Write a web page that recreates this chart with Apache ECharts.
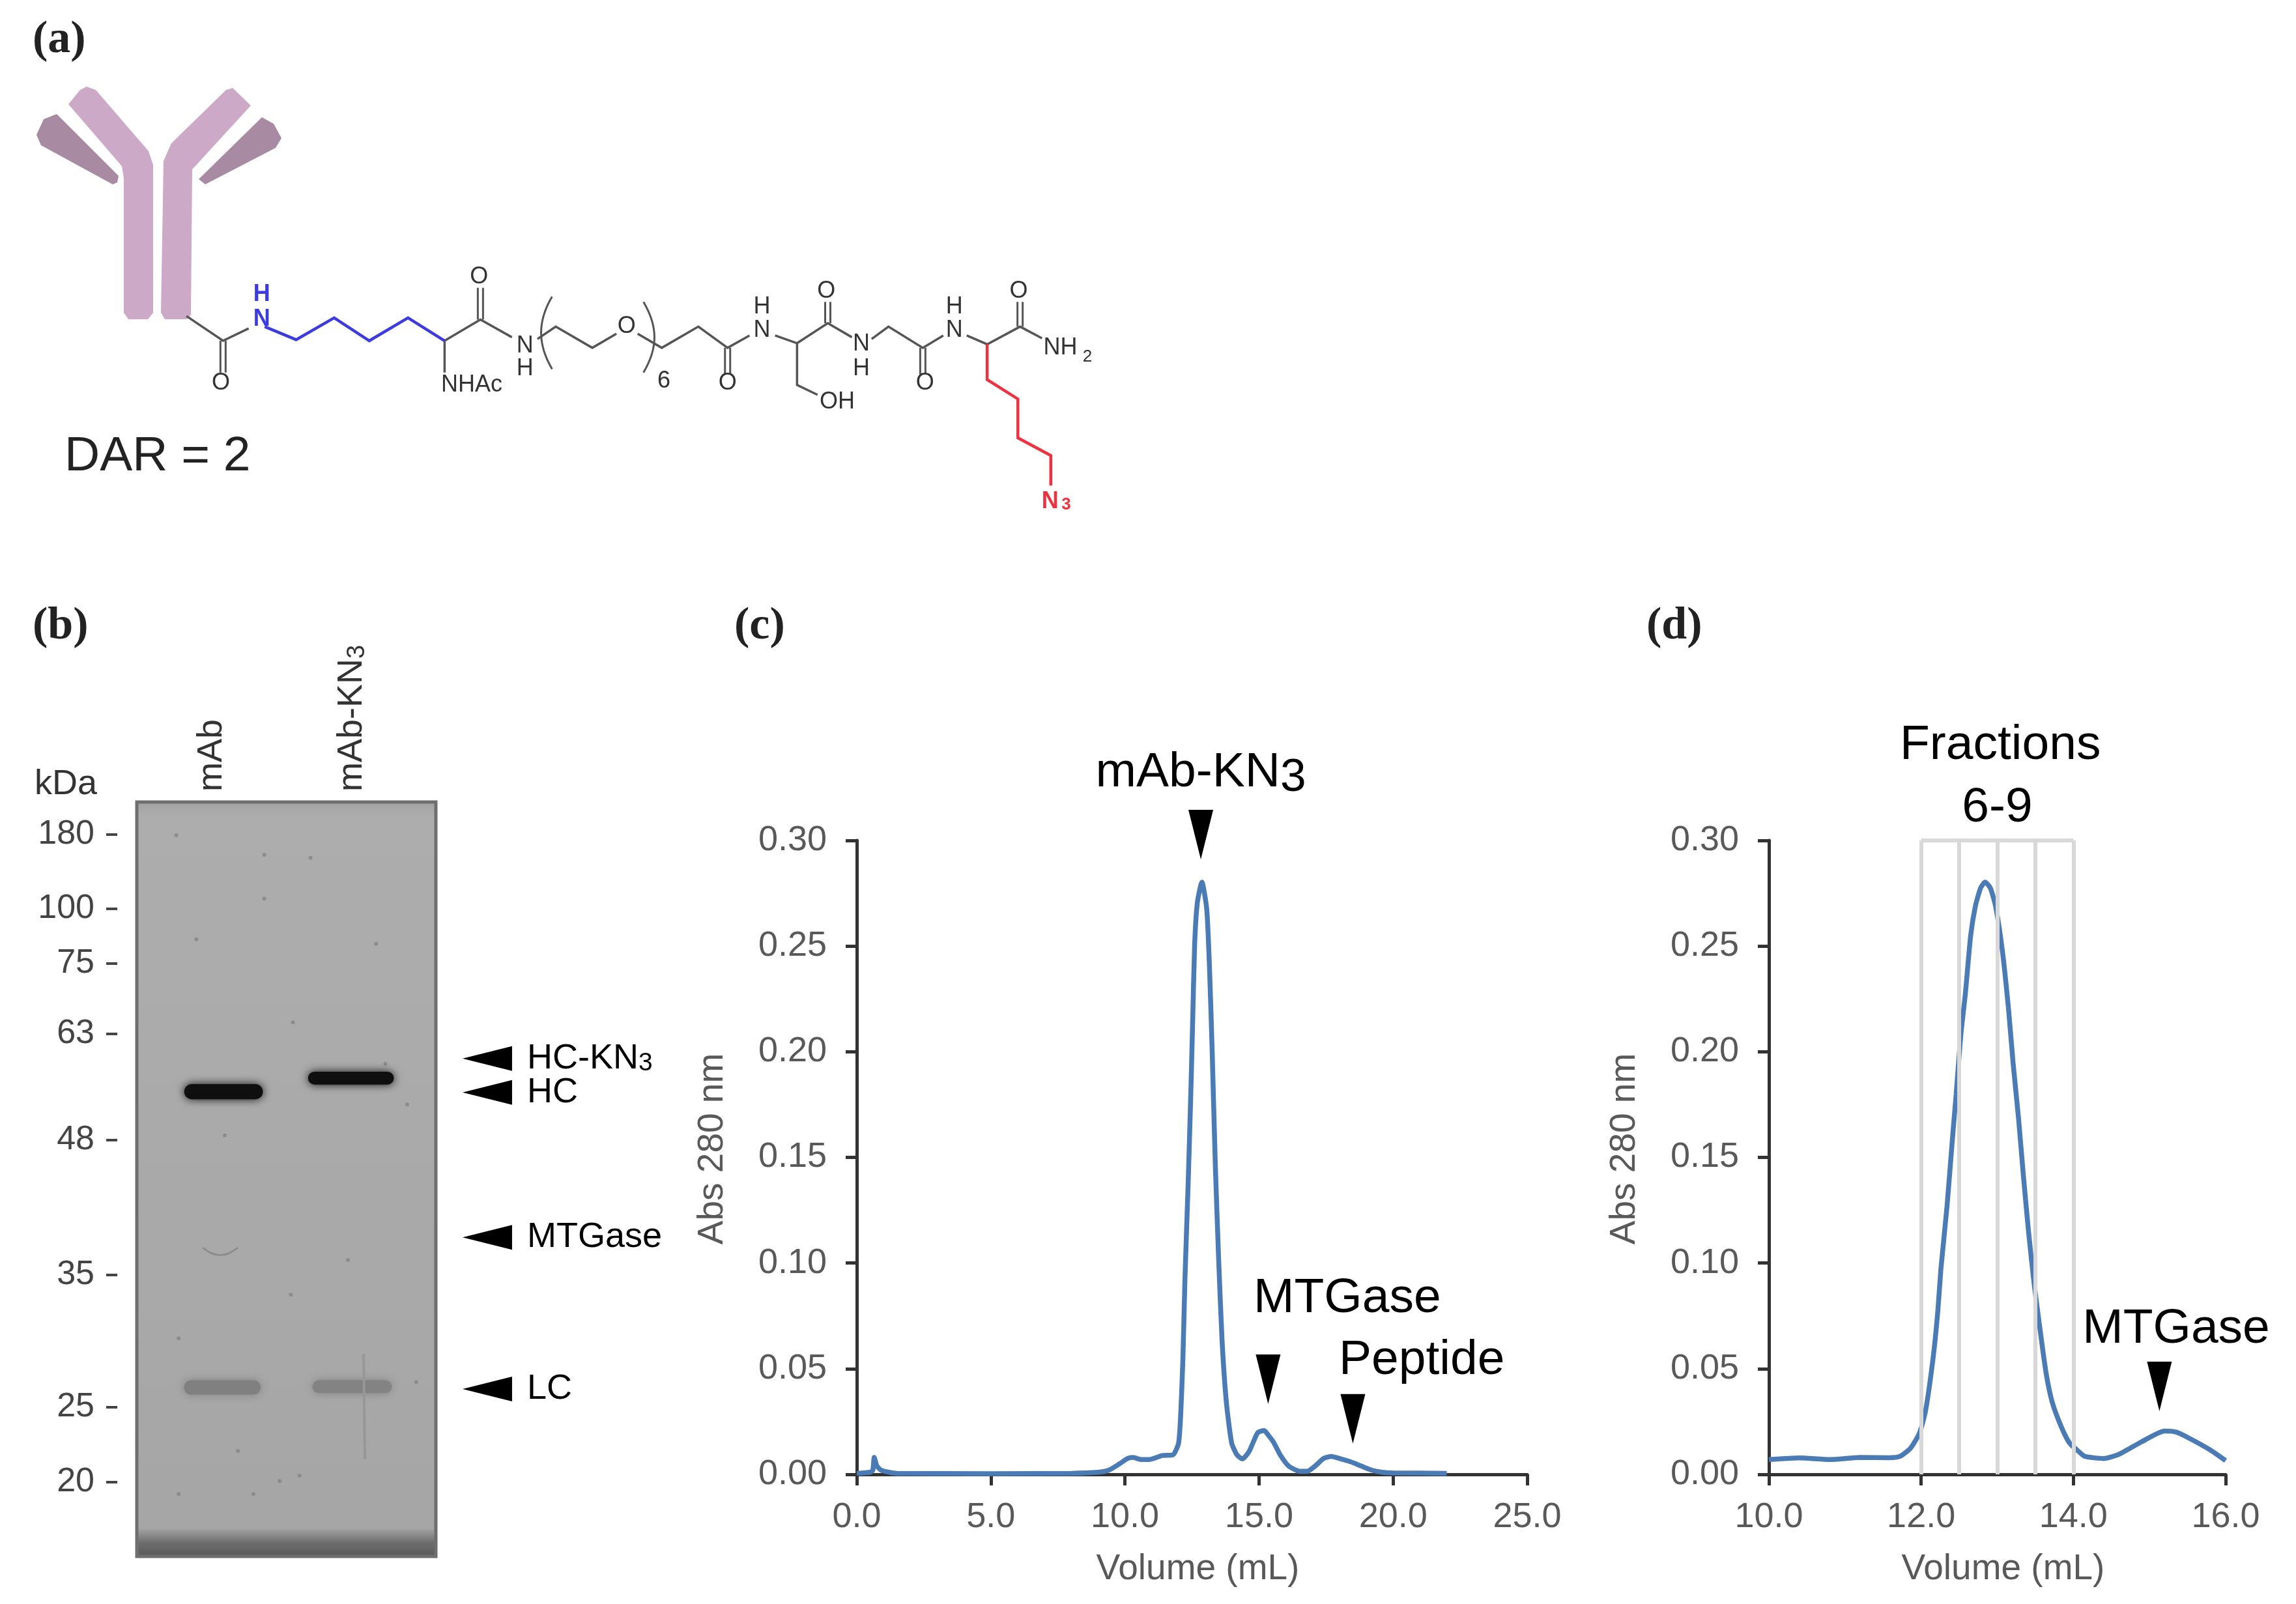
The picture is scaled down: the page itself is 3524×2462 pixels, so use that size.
<!DOCTYPE html>
<html lang="en">
<head>
    <meta charset="UTF-8">
    <title>mAb-KN3 conjugation, gel and SEC traces</title>
    <script src="https://cdn.jsdelivr.net/npm/echarts@6/dist/echarts.min.js"></script>
</head>
<body style="margin: 0; background: #fff">
    <div id="chart" style="width: 3524px; height: 2462px;"></div>
    <script>
        // panel (c), full SEC run
        const volumeC = [0, 0.5, 0.6, 0.65, 0.75, 0.9, 1.2, 1.5, 5, 8, 9, 9.4, 9.8, 10.1, 10.3, 10.6, 10.9, 11.39, 11.79, 12, 12.08, 12.16, 12.24, 12.36, 12.46, 12.52, 12.6, 12.7, 12.87, 13.05, 13.15, 13.25, 13.37, 13.49, 13.62, 13.78, 13.98, 14.18, 14.38, 14.63, 14.95, 15.19, 15.35, 15.55, 15.8, 16.1, 16.5, 16.8, 17.1, 17.4, 17.7, 18, 18.4, 18.8, 19.2, 19.6, 20, 22];
        const absC = [0.0005, 0.001, 0.002, 0.008, 0.004, 0.002, 0.001, 0.0005, 0.0003, 0.0005, 0.001, 0.002, 0.005, 0.0075, 0.008, 0.007, 0.007, 0.0089, 0.0092, 0.0148, 0.0285, 0.0541, 0.0934, 0.1387, 0.182, 0.2115, 0.2508, 0.2705, 0.2803, 0.2675, 0.241, 0.2016, 0.1466, 0.1033, 0.0639, 0.0344, 0.0148, 0.0092, 0.0073, 0.0108, 0.0197, 0.0207, 0.0185, 0.015, 0.009, 0.004, 0.0015, 0.0015, 0.004, 0.0075, 0.0085, 0.0075, 0.006, 0.004, 0.002, 0.001, 0.0007, 0.0005];

        // panel (d), zoom on the main peak
        const volumeD = [10, 10.4, 10.8, 11.2, 11.58, 11.72, 11.86, 11.98, 12.06, 12.16, 12.22, 12.26, 12.34, 12.41, 12.46, 12.52, 12.58, 12.65, 12.71, 12.78, 12.84, 12.91, 12.98, 13.07, 13.15, 13.21, 13.28, 13.34, 13.41, 13.48, 13.55, 13.64, 13.72, 13.84, 13.95, 14.07, 14.15, 14.4, 14.6, 14.9, 15.2, 15.35, 15.5, 15.8, 16];
        const absD = [0.007, 0.0078, 0.007, 0.008, 0.0079, 0.0085, 0.0124, 0.0197, 0.0305, 0.056, 0.0777, 0.0974, 0.1269, 0.1584, 0.18, 0.2075, 0.2272, 0.2548, 0.2685, 0.2774, 0.2803, 0.2774, 0.2685, 0.2469, 0.2193, 0.1938, 0.1682, 0.1426, 0.1151, 0.0915, 0.0718, 0.0482, 0.0344, 0.0226, 0.0148, 0.0108, 0.0085, 0.0075, 0.0095, 0.0155, 0.0205, 0.02, 0.0175, 0.0115, 0.0065];
        const fractionEdges = [12, 12.5, 13, 13.5, 14];

        // peak arrows and their captions, in axis units
        const arrowsC = [[12.83, 0.3028], [15.34, 0.045], [18.5, 0.0263]];
        const captionsC = [['mAb-KN', 12.83, 0.332, '3'], ['MTGase', 18.29, 0.0831, ''], ['Peptide', 21.07, 0.054, '']];
        const arrowsD = [[15.13, 0.0416]];
        const captionsD = [['Fractions', 13.04, 0.345, ''], ['6-9', 13, 0.3152, ''], ['MTGase', 15.35, 0.0686, '']];

        // panel (b), gel. migration is % of the gel height from the top
        const ladderKDa = [180, 100, 75, 63, 48, 35, 25, 20];
        const ladderMigration = [4.3, 14.1, 21.4, 30.7, 44.8, 62.7, 80.2, 90.1];
        const laneNames = ['mAb', 'mAb-KN3'];
        const lanePositions = [0.25, 0.72];
        const bandLane = [0.29, 0.716, 0.286, 0.72];
        const bandMigration = [38.4, 36.6, 77.6, 77.5];
        const bandWidth = [0.263, 0.287, 0.256, 0.265];
        const bandThickness = [2.0, 1.7, 1.9, 1.7];
        const bandIntensity = [1, 1, 0.25, 0.23];
        const speckX = [0.426, 0.132, 0.8, 0.199, 0.522, 0.294, 0.831, 0.904, 0.515, 0.14, 0.934, 0.338, 0.478, 0.544, 0.39, 0.14, 0.581, 0.426, 0.706];
        const speckMigration = [12.8, 4.4, 18.8, 18.2, 29.2, 44.2, 34.7, 40.1, 65.3, 71.1, 76.9, 86, 90, 89.3, 91.7, 91.7, 7.4, 7, 60.7];
        const gelMarkers = [['HC-KN', 34, '3'], ['HC', 38.5, ''], ['MTGase', 57.7, ''], ['LC', 77.8, '']];
        const gelMarkerX = 1.172;

        const SANS = '"Liberation Sans", Arial, sans-serif';
        const TICK_GRAY = '#595959';
        const CURVE_BLUE = '#4a7bb5';
        const DOWN_TRIANGLE = 'path://M0,0 L2,0 L1,4 Z';
        const LEFT_TRIANGLE = 'path://M0,1 L2,0 L2,2 Z';

        const zip = (a, b) => a.map((v, i) => [v, b[i]]);

        // caption with optional subscript, e.g. KN3
        function richText(base, sub) {
            return sub ? `{n|${base}}{s|${sub}}` : `{n|${base}}`;
        }
        function richStyles(size, subRatio) {
            return {
                n: { fontSize: size, fontFamily: SANS, color: '#000' },
                s: { fontSize: size * subRatio, fontFamily: SANS, color: '#000', verticalAlign: 'bottom', padding: [size * 0.22, 0, 0, 0] }
            };
        }

        function secAxes(gridIndex, xMin, xMax, xStep) {
            const axisLine = { show: true, lineStyle: { color: '#333', width: 5 } };
            const axisTick = { show: true, length: 17, lineStyle: { color: '#333', width: 5 } };
            return {
                x: {
                    type: 'value', gridIndex, min: xMin, max: xMax, interval: xStep,
                    name: 'Volume (mL)', nameLocation: 'middle', nameGap: 118,
                    nameTextStyle: { fontFamily: SANS, fontSize: 55, color: TICK_GRAY, padding: [0, 0, 0, 18] },
                    axisLine, axisTick, splitLine: { show: false },
                    axisLabel: { fontFamily: SANS, fontSize: 54, color: TICK_GRAY, margin: 39, formatter: v => v.toFixed(1) }
                },
                y: {
                    type: 'value', gridIndex, min: 0, max: 0.3, interval: 0.05,
                    name: 'Abs 280 nm', nameLocation: 'middle', nameGap: 194,
                    nameTextStyle: { fontFamily: SANS, fontSize: 55, color: TICK_GRAY, padding: [0, 0, 0, 26] },
                    axisLine, axisTick, splitLine: { show: false },
                    axisLabel: { fontFamily: SANS, fontSize: 54, color: TICK_GRAY, margin: 46, formatter: v => v.toFixed(2) }
                }
            };
        }

        function arrowSeries(xAxisIndex, yAxisIndex, arrows) {
            return {
                type: 'scatter', xAxisIndex, yAxisIndex, data: arrows, clip: false, silent: true, z: 5,
                symbol: DOWN_TRIANGLE, symbolSize: [38, 76], symbolKeepAspect: false,
                itemStyle: { color: '#000', opacity: 1 }
            };
        }
        function captionSeries(xAxisIndex, yAxisIndex, captions) {
            return {
                type: 'scatter', xAxisIndex, yAxisIndex, clip: false, silent: true, z: 6, symbolSize: 1,
                itemStyle: { color: 'rgba(0,0,0,0)', opacity: 1 },
                data: captions.map(c => ({
                    value: [c[1], c[2]],
                    label: {
                        show: true, position: 'inside', align: 'center', verticalAlign: 'middle', opacity: 1, color: '#000',
                        formatter: richText(c[0], c[3]), rich: richStyles(75, 0.95)
                    }
                }))
            };
        }

        const axesC = secAxes(0, 0, 25, 5);
        const axesD = secAxes(1, 10, 16, 2);

        // gel axes: lane names on top, ladder on its own thin grid left of the gel
        const gelX = {
            type: 'value', gridIndex: 2, min: 0, max: 1, position: 'top',
            axisLine: { show: false }, axisTick: { show: false }, splitLine: { show: false },
            axisLabel: {
                show: true, customValues: lanePositions, rotate: 90, margin: 16,
                fontFamily: SANS, fontSize: 54, color: '#333',
                formatter: v => {
                    const name = laneNames[lanePositions.indexOf(v)];
                    return name === 'mAb-KN3' ? '{n|mAb-KN}{s|3}' : `{n|${name}}`;
                },
                rich: {
                    n: { fontSize: 54, fontFamily: SANS, color: '#333' },
                    s: { fontSize: 38, fontFamily: SANS, color: '#333', verticalAlign: 'bottom', padding: [12, 0, 0, 0] }
                }
            }
        };
        const gelY = {
            type: 'value', gridIndex: 2, min: 0, max: 100, inverse: true,
            axisLine: { show: false }, axisTick: { show: false }, axisLabel: { show: false }, splitLine: { show: false }
        };
        const ladderX = { type: 'value', gridIndex: 3, min: 0, max: 1, show: false };
        const ladderY = {
            type: 'value', gridIndex: 3, min: 0, max: 100, inverse: true,
            axisLine: { show: false }, splitLine: { show: false },
            axisTick: { show: true, customValues: ladderMigration, length: 17, lineStyle: { color: '#444', width: 4 } },
            axisLabel: {
                show: true, customValues: ladderMigration, margin: 35,
                fontFamily: SANS, fontSize: 52, color: '#444',
                formatter: v => String(ladderKDa[ladderMigration.indexOf(v)])
            }
        };

        const bandRows = bandLane.map((x, i) => [x, bandMigration[i], bandWidth[i], bandThickness[i], bandIntensity[i]]);

        function renderBand(params, api) {
            const c = api.coord([api.value(0), api.value(1)]);
            const s = api.size([api.value(2), api.value(3)]);
            const level = Math.round(165 - 150 * api.value(4));
            const color = `rgb(${level},${level},${level})`;
            return {
                type: 'rect',
                shape: { x: c[0] - s[0] / 2, y: c[1] - s[1] / 2, width: s[0], height: s[1], r: s[1] / 2 },
                style: { fill: color, shadowBlur: 14, shadowColor: color }
            };
        }

        // panel (a) is a drawing, not data. coordinates are page pixels scaled from a crop
        const cx = x => x / 0.891;
        const cy = y => y / 1.845;
        const pts = list => list.map(p => [cx(p[0]), cy(p[1])]);
        const BOND = '#555';
        const LINKER_BLUE = '#3b3be0';
        const LINKER_RED = '#ee3340';
        const CHAIN_LIGHT = '#cba9c7';
        const CHAIN_DARK = '#a88ba3';

        const bonds = [
            [[255, 895], [305, 965], [340, 930]],
            [[608, 965], [657, 905], [700, 955]],
            [[608, 965], [608, 1055]],
            [[735, 960], [760, 925], [810, 985], [843, 945]],
            [[872, 945], [905, 985], [955, 925], [995, 985], [1025, 950]],
            [[1060, 950], [1090, 972], [1132, 915], [1165, 955]],
            [[1090, 972], [1090, 1090], [1118, 1118]],
            [[1192, 960], [1215, 925], [1262, 985], [1290, 950]],
            [[1322, 950], [1350, 975], [1395, 925], [1425, 958]]
        ];
        const blueBonds = [[[362, 925], [405, 962], [457, 900], [505, 965], [558, 900], [608, 965]]];
        const redBonds = [[[1350, 975], [1350, 1075], [1392, 1130], [1392, 1240], [1437, 1290], [1437, 1375]]];
        const doubleBonds = [[305, 965, 1055], [657, 905, 815], [995, 985, 1060], [1132, 915, 855], [1262, 985, 1060], [1395, 925, 855]];
        const atoms = [
            ['O', 302, 1085], ['O', 655, 785], ['N', 718, 980], ['H', 718, 1045], ['O', 857, 925], ['N', 1042, 935], ['H', 1042, 870],
            ['O', 995, 1085], ['O', 1130, 825], ['OH', 1145, 1138], ['N', 1178, 975], ['H', 1178, 1045], ['O', 1265, 1085],
            ['N', 1305, 935], ['H', 1305, 870], ['O', 1393, 825], ['NHAc', 645, 1090], ['NH', 1450, 985]
        ];

        function polyline(points, stroke, lineWidth) {
            return { type: 'polyline', shape: { points: pts(points) }, style: { stroke, lineWidth, fill: null } };
        }
        function label(text, x, y, font, fill, align) {
            return {
                type: 'text', x, y,
                style: { text, font, fill, textAlign: align || 'center', textVerticalAlign: 'middle', align: align || 'center', verticalAlign: 'middle' }
            };
        }
        const ATOM_FONT = `36px ${SANS}`;
        const LETTER_FONT = 'bold 70px "Liberation Serif", serif';

        const drawing = [
            // antibody
            { type: 'polygon', shape: { points: [[133, 133], [147, 138], [228, 232], [235, 253], [235, 480], [227, 490], [197, 490], [190, 480], [190, 273], [187, 255], [105, 160], [123, 138]] }, style: { fill: CHAIN_LIGHT } },
            { type: 'polygon', shape: { points: [[357, 135], [385, 162], [295, 260], [293, 483], [287, 490], [253, 490], [247, 480], [251, 247], [263, 220], [347, 138]] }, style: { fill: CHAIN_LIGHT } },
            { type: 'polygon', shape: { points: [[87, 175], [182, 270], [180, 280], [173, 283], [63, 223], [56, 207], [67, 183]] }, style: { fill: CHAIN_DARK } },
            { type: 'polygon', shape: { points: [[402, 180], [420, 190], [432, 212], [423, 227], [315, 283], [305, 275]] }, style: { fill: CHAIN_DARK } },
            // linker
            ...bonds.map(b => polyline(b, BOND, 3.5)),
            ...blueBonds.map(b => polyline(b, LINKER_BLUE, 4.5)),
            ...redBonds.map(b => polyline(b, LINKER_RED, 4.5)),
            ...doubleBonds.flatMap(d => [-4, 4].map(o => ({
                type: 'line',
                shape: { x1: cx(d[0]) + o, y1: cy(d[1]), x2: cx(d[0]) + o, y2: cy(d[2]) },
                style: { stroke: BOND, lineWidth: 3 }
            }))),
            ...atoms.map(a => label(a[0], cx(a[1]), cy(a[2]), ATOM_FONT, '#333')),
            label('2', cx(1487), cy(1010), `26px ${SANS}`, '#333'),
            label('H', cx(358), cy(835), `bold 36px ${SANS}`, LINKER_BLUE),
            label('N', cx(358), cy(905), `bold 36px ${SANS}`, LINKER_BLUE),
            label('N', cx(1436), cy(1420), `bold 36px ${SANS}`, LINKER_RED),
            label('3', cx(1458), cy(1430), `bold 26px ${SANS}`, LINKER_RED),
            { type: 'bezierCurve', shape: { x1: cx(755), y1: cy(840), x2: cx(755), y2: cy(1045), cpx1: cx(735), cpy1: cy(910), cpx2: cx(735), cpy2: cy(975) }, style: { stroke: BOND, lineWidth: 3, fill: null } },
            { type: 'bezierCurve', shape: { x1: cx(880), y1: cy(855), x2: cx(880), y2: cy(1055), cpx1: cx(900), cpy1: cy(925), cpx2: cx(900), cpy2: cy(985) }, style: { stroke: BOND, lineWidth: 3, fill: null } },
            label('6', cx(908), cy(1080), ATOM_FONT, '#333'),
            label('DAR = 2', 99, 701, `75px ${SANS}`, '#222', 'left'),
            // panel letters
            label('(a)', 50, 62, LETTER_FONT, '#222', 'left'),
            label('(b)', 50, 962, LETTER_FONT, '#222', 'left'),
            label('(c)', 1127, 962, LETTER_FONT, '#222', 'left'),
            label('(d)', 2527, 962, LETTER_FONT, '#222', 'left'),
            label('kDa', 101, 1204, `54px ${SANS}`, '#333'),
            // small gel artefacts
            { type: 'bezierCurve', z: 4, shape: { x1: 311, y1: 1915, x2: 365, y2: 1915, cpx1: 338, cpy1: 1938 }, style: { stroke: '#8a8a8a', lineWidth: 2.5, fill: null } },
            { type: 'line', z: 4, shape: { x1: 558, y1: 2078, x2: 560, y2: 2240 }, style: { stroke: '#979797', lineWidth: 4 } }
        ];

        const myChart = echarts.init(document.getElementById('chart'));

        const option = {
            animation: false,
            backgroundColor: '#fff',
            grid: [
                { left: 1315, top: 1290, width: 1029, height: 973 },
                { left: 2715, top: 1290, width: 701, height: 973 },
                {
                    left: 210, top: 1231, width: 459, height: 1158, show: true, borderColor: '#6e6e6e', borderWidth: 5,
                    backgroundColor: new echarts.graphic.LinearGradient(0, 0, 0, 1, [
                        { offset: 0, color: '#a0a0a0' },
                        { offset: 0.02, color: '#adadad' },
                        { offset: 0.96, color: '#a6a6a6' },
                        { offset: 0.98, color: '#6c6c6c' },
                        { offset: 1, color: '#585858' }
                    ])
                },
                { left: 180, top: 1231, width: 10, height: 1158 }
            ],
            xAxis: [axesC.x, axesD.x, gelX, ladderX],
            yAxis: [axesC.y, axesD.y, gelY, ladderY],
            graphic: { elements: drawing },
            series: [
                {
                    type: 'line', xAxisIndex: 0, yAxisIndex: 0, data: zip(volumeC, absC), smooth: 0.2,
                    showSymbol: false, silent: true, z: 3, lineStyle: { color: CURVE_BLUE, width: 7.5 }
                },
                arrowSeries(0, 0, arrowsC),
                captionSeries(0, 0, captionsC),
                {
                    // fraction boxes behind the trace
                    type: 'line', xAxisIndex: 1, yAxisIndex: 1, data: [], silent: true, z: 1,
                    markLine: {
                        silent: true, symbol: 'none', animation: false, label: { show: false },
                        lineStyle: { color: '#d8d8d8', width: 6, type: 'solid' },
                        data: [
                            ...fractionEdges.map(v => ({ xAxis: v })),
                            [{ coord: [fractionEdges[0], 0.3] }, { coord: [fractionEdges[fractionEdges.length - 1], 0.3] }]
                        ]
                    }
                },
                {
                    type: 'line', xAxisIndex: 1, yAxisIndex: 1, data: zip(volumeD, absD), smooth: 0.2,
                    showSymbol: false, silent: true, z: 3, lineStyle: { color: CURVE_BLUE, width: 7.5 }
                },
                arrowSeries(1, 1, arrowsD),
                captionSeries(1, 1, captionsD),
                {
                    type: 'scatter', xAxisIndex: 2, yAxisIndex: 2, data: zip(speckX, speckMigration), silent: true, z: 2,
                    symbolSize: 6, itemStyle: { color: '#858585', opacity: 0.8 }
                },
                {
                    type: 'custom', xAxisIndex: 2, yAxisIndex: 2, data: bandRows, silent: true, z: 3,
                    renderItem: renderBand, clip: false
                },
                {
                    type: 'scatter', xAxisIndex: 2, yAxisIndex: 2, clip: false, silent: true, z: 5,
                    symbol: LEFT_TRIANGLE, symbolSize: [76, 38], symbolKeepAspect: false,
                    itemStyle: { color: '#000', opacity: 1 },
                    data: gelMarkers.map(m => ({
                        value: [gelMarkerX, m[1]],
                        label: {
                            show: true, position: 'right', distance: 23, color: '#000',
                            formatter: richText(m[0], m[2]), rich: richStyles(54, 0.72)
                        }
                    }))
                }
            ]
        };

        myChart.setOption(option);
    </script>
</body>
</html>
